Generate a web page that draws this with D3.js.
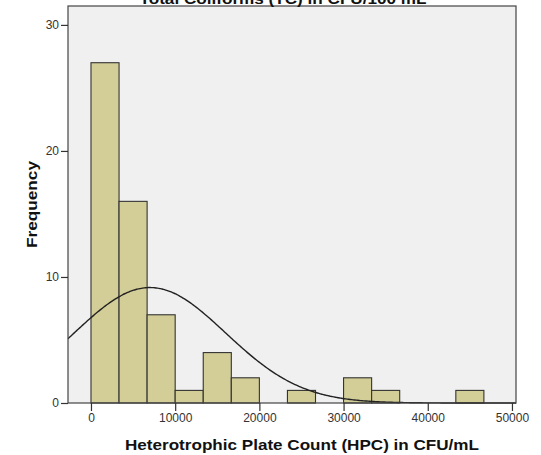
<!DOCTYPE html>
<html>
<head>
<meta charset="utf-8">
<script src="https://cdn.jsdelivr.net/npm/d3@7"></script>
<style>
  html, body { margin: 0; padding: 0; background: #fff; }
  svg { display: block; font-family: "Liberation Sans", Arial, sans-serif; }
</style>
</head>
<body>
<svg id="chart" width="541" height="455"></svg>
<script>
// ---- data ----
const chartTitle = "Total Coliforms (TC) in CFU/100 mL";
const xTitle = "Heterotrophic Plate Count (HPC) in CFU/mL";
const yTitle = "Frequency";
const binWidth = 10000 / 3;
const binStarts = [0, 3333.33, 6666.67, 10000, 13333.33, 16666.67, 20000, 23333.33, 26666.67, 30000, 33333.33, 36666.67, 40000, 43333.33];
const binCounts = [27, 16, 7, 1, 4, 2, 0, 1, 0, 2, 1, 0, 0, 1];
const xTicks = [0, 10000, 20000, 30000, 40000, 50000];
const yTicks = [0, 10, 20, 30];
const normalMean = 7000;
const normalSD = 9000;
const sampleN = 62;

// ---- layout ----
const svg = d3.select("#chart");
const pLeft = 68, pRight = 516, pTop = 6, pBottom = 403;

const x = d3.scaleLinear().domain([-2730, 50480]).range([pLeft, pRight]);
const y = d3.scaleLinear().domain([0, 31.5]).range([pBottom, pTop]);

// plot background
svg.append("rect")
  .attr("x", pLeft).attr("y", pTop)
  .attr("width", pRight - pLeft).attr("height", pBottom - pTop)
  .attr("fill", "#f0f0f0");

// bars
const bins = binStarts.map((s, i) => ({ x0: s, x1: s + binWidth, n: binCounts[i] }))
  .filter(d => d.n > 0);
svg.append("g").selectAll("rect").data(bins).join("rect")
  .attr("x", d => x(d.x0))
  .attr("y", d => y(d.n))
  .attr("width", d => x(d.x1) - x(d.x0))
  .attr("height", d => y(0) - y(d.n))
  .attr("fill", "#d3ce97")
  .attr("stroke", "#333")
  .attr("stroke-width", 1.1);

// normal curve
const pdf = v => sampleN * binWidth / (normalSD * Math.sqrt(2 * Math.PI)) *
  Math.exp(-0.5 * Math.pow((v - normalMean) / normalSD, 2));
const curveXs = d3.range(0, 301).map(i => x.domain()[0] + (x.domain()[1] - x.domain()[0]) * i / 300);
svg.append("path")
  .datum(curveXs)
  .attr("fill", "none")
  .attr("stroke", "#222")
  .attr("stroke-width", 1.4)
  .attr("d", d3.line().x(v => x(v)).y(v => y(pdf(v))).curve(d3.curveBasis));

// frame
svg.append("rect")
  .attr("x", pLeft).attr("y", pTop)
  .attr("width", pRight - pLeft).attr("height", pBottom - pTop)
  .attr("fill", "none")
  .attr("stroke", "#444")
  .attr("stroke-width", 1.2);

// axes
const xAxis = svg.append("g")
  .attr("transform", `translate(0,${pBottom})`)
  .call(d3.axisBottom(x).tickValues(xTicks).tickSize(8).tickPadding(2).tickFormat(d3.format("d")));
const yAxis = svg.append("g")
  .attr("transform", `translate(${pLeft},0)`)
  .call(d3.axisLeft(y).tickValues(yTicks).tickSize(7).tickPadding(2).tickFormat(d3.format("d")));
[xAxis, yAxis].forEach(g => {
  g.select(".domain").remove();
  g.selectAll(".tick line").attr("stroke", "#333").attr("stroke-width", 1.2);
  g.selectAll(".tick text").attr("fill", "#333").style("font-size", "12px")
    .style("font-family", "'Liberation Sans', Arial, sans-serif");
});

// titles
svg.append("text")
  .attr("x", 283).attr("y", 4)
  .attr("text-anchor", "middle")
  .attr("textLength", 287).attr("lengthAdjust", "spacingAndGlyphs")
  .style("font-size", "14px").style("font-weight", "bold")
  .attr("fill", "#111")
  .text(chartTitle);

svg.append("text")
  .attr("x", 302).attr("y", 450)
  .attr("text-anchor", "middle")
  .attr("textLength", 354).attr("lengthAdjust", "spacingAndGlyphs")
  .style("font-size", "14.5px").style("font-weight", "bold")
  .attr("fill", "#111")
  .text(xTitle);

svg.append("text")
  .attr("transform", `translate(37,${(pTop + pBottom) / 2}) rotate(-90)`)
  .attr("text-anchor", "middle")
  .attr("textLength", 87).attr("lengthAdjust", "spacingAndGlyphs")
  .style("font-size", "14px").style("font-weight", "bold")
  .attr("fill", "#111")
  .text(yTitle);
</script>
</body>
</html>
